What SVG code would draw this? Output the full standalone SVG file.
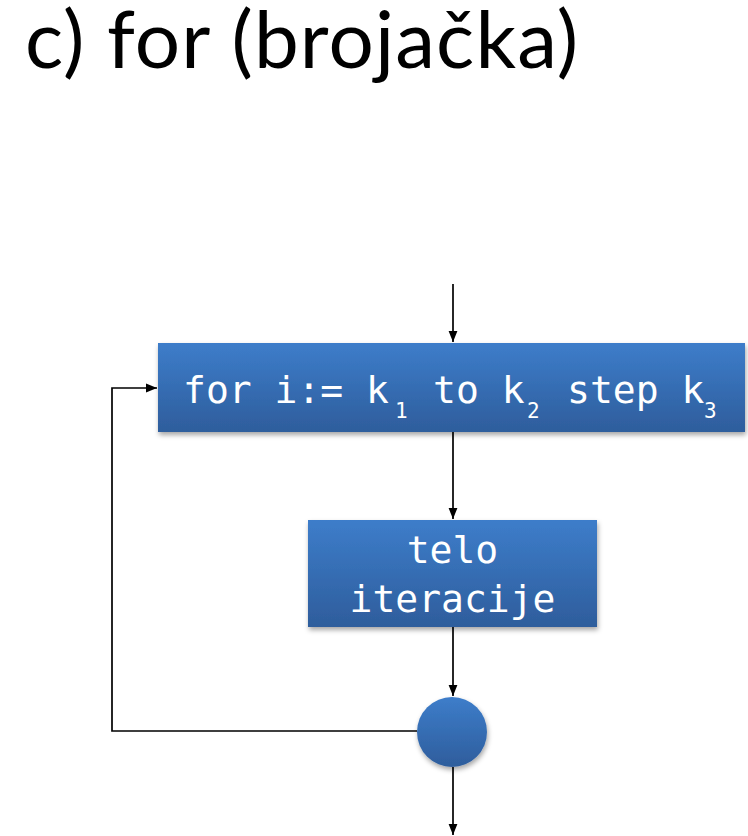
<svg xmlns="http://www.w3.org/2000/svg" width="748" height="836" viewBox="0 0 748 836">
<style>
.title{font-family:"Gill Sans","Lato","Open Sans",sans-serif;font-size:80px;fill:#000}
.code{font-family:"DejaVu Sans Mono","Liberation Mono",monospace;font-size:38px;fill:#fff}
.sub{font-size:21px}
.conn{fill:none;stroke:#000;stroke-width:1.7}
</style>
<defs>
<linearGradient id="g" x1="0" y1="0" x2="0" y2="1">
<stop offset="0" stop-color="#3D7DCA"/>
<stop offset="1" stop-color="#2E5D9C"/>
</linearGradient>
<filter id="sh" x="-10%" y="-10%" width="125%" height="140%">
<feDropShadow dx="1" dy="3" stdDeviation="2.5" flood-color="#000" flood-opacity="0.35"/>
</filter>
<marker id="ah" viewBox="0 0 10 10" refX="10" refY="5" markerWidth="11" markerHeight="11" markerUnits="userSpaceOnUse" orient="auto">
<path d="M0,1 L10,5 L0,9 Z" fill="#000"/>
</marker>
</defs>
<text class="title" x="25" y="68" textLength="553" lengthAdjust="spacing">c) for (brojačka)</text>
<g id="connectors">
<line class="conn" x1="453" y1="284" x2="453" y2="342" marker-end="url(#ah)"/>
<line class="conn" x1="453" y1="432" x2="453" y2="519" marker-end="url(#ah)"/>
<line class="conn" x1="453" y1="627" x2="453" y2="696" marker-end="url(#ah)"/>
<line class="conn" x1="453" y1="767" x2="453" y2="835" marker-end="url(#ah)"/>
<polyline class="conn" points="417,731 112,731 112,388 157,388" marker-end="url(#ah)"/>
</g>
<g id="node-for">
<rect x="158" y="343" width="587" height="89" fill="url(#g)" filter="url(#sh)"/>
<text class="code" x="183" y="403">for i:= k</text>
<text class="code sub" x="395" y="418">1</text>
<text class="code" x="433" y="403">to k</text>
<text class="code sub" x="527" y="418">2</text>
<text class="code" x="567" y="403">step k</text>
<text class="code sub" x="704" y="418">3</text>
</g>
<g id="node-telo">
<rect x="308" y="520" width="289" height="107" fill="url(#g)" filter="url(#sh)"/>
<text class="code" x="452.5" y="563" text-anchor="middle">telo</text>
<text class="code" x="452.5" y="612" text-anchor="middle">iteracije</text>
</g>
<g id="node-join">
<circle cx="452" cy="732" r="35" fill="url(#g)" filter="url(#sh)"/>
</g>
</svg>
